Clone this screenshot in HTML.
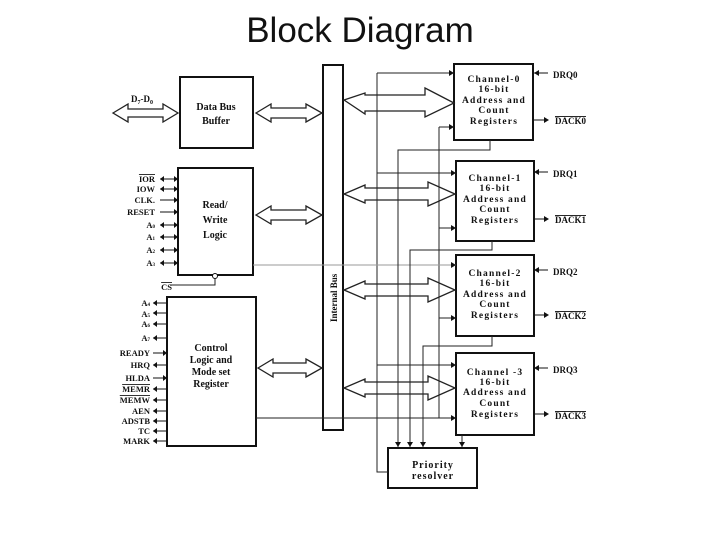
<!DOCTYPE html>
<html><head><style>
body{margin:0;background:#fff;width:720px;height:540px;overflow:hidden}
svg text{font-family:"Liberation Serif",serif;font-weight:bold;fill:#111}
</style></head><body>
<svg width="720" height="540" xmlns="http://www.w3.org/2000/svg">
<text x="360" y="42" text-anchor="middle" style="font-family:'Liberation Sans',sans-serif;font-weight:normal;font-size:35px">Block Diagram</text>
<g stroke="#111" fill="none" stroke-width="2">
<rect x="180" y="77" width="73" height="71"/>
<rect x="178" y="168" width="75" height="107"/>
<rect x="167" y="297" width="89" height="149"/>
<rect x="323" y="65" width="20" height="365"/>
<rect x="454" y="64" width="79" height="76"/>
<rect x="456" y="161" width="78" height="80"/>
<rect x="456" y="255" width="78" height="81"/>
<rect x="456" y="353" width="78" height="82"/>
<rect x="388" y="448" width="89" height="40"/>
</g>
<g stroke="#222" fill="#fff" stroke-width="1.3">
<path d="M113,113 L128,104 L128,109 L163,109 L163,104 L178,113 L163,122 L163,117 L128,117 L128,122 Z"/>
<path d="M256,113 L271,104 L271,108 L306,108 L306,104 L322,113 L306,122 L306,118 L271,118 L271,122 Z"/>
<path d="M256,215 L271,206 L271,210 L306,210 L306,206 L322,215 L306,224 L306,220 L271,220 L271,224 Z"/>
<path d="M258,368 L273,359 L273,363 L306,363 L306,359 L322,368 L306,377 L306,373 L273,373 L273,377 Z"/>
<path d="M344,100 L365,93 L365,95 L425,95 L425,88 L454,103 L425,117 L425,111 L365,111 L365,114 Z"/>
<path d="M344,194 L365,185 L365,188 L428,188 L428,182 L455,194 L428,206 L428,200 L365,200 L365,203 Z"/>
<path d="M344,290 L365,281 L365,284 L428,284 L428,278 L455,290 L428,302 L428,296 L365,296 L365,299 Z"/>
<path d="M344,388 L365,379 L365,382 L428,382 L428,376 L455,388 L428,400 L428,394 L365,394 L365,397 Z"/>
</g>
<g stroke="#222" fill="none" stroke-width="1">
<path d="M377,73 L454,73 M377,73 L377,472 L388,472"/>
<path d="M377,173 L456,173 M377,265 L456,265 M377,365 L456,365"/>
<path d="M439,127 L454,127 M439,127 L439,418 M439,228 L456,228 M439,318 L456,318"/>
<path d="M256,418 L456,418" />
<path d="M253,265 L456,265" stroke="#999"/>
<path d="M490,140 L490,150 L398,150 L398,447"/>
<path d="M492,241 L492,250 L410,250 L410,447"/>
<path d="M492,336 L492,346 L423,346 L423,447"/>
<path d="M462,435 L462,447"/>
<path d="M170,285 L215,285 L215,277"/>
</g>
<circle cx="215" cy="276" r="2.5" fill="#fff" stroke="#111"/>
<g fill="#111">
<path d="M454,73 l-5,-3 v6z M454,127 l-5,-3 v6z M456,173 l-5,-3 v6z M456,228 l-5,-3 v6z M456,265 l-5,-3 v6z M456,318 l-5,-3 v6z M456,365 l-5,-3 v6z M456,418 l-5,-3 v6z"/>
<path d="M398,447 l-3,-5 h6z M410,447 l-3,-5 h6z M423,447 l-3,-5 h6z M462,447 l-3,-5 h6z"/>
</g>
<g font-size="10" text-anchor="middle">
<text x="216" y="110">Data Bus</text><text x="216" y="124">Buffer</text>
<text x="215" y="208">Read/</text><text x="215" y="223">Write</text><text x="215" y="238">Logic</text>
<text x="211" y="351">Control</text><text x="211" y="363">Logic and</text><text x="211" y="375">Mode set</text><text x="211" y="387">Register</text>
<text x="433" y="468" letter-spacing="1">Priority</text><text x="433" y="479" letter-spacing="1">resolver</text>
</g>
<g font-size="9.5" text-anchor="middle" letter-spacing="1.2">
<text x="494" y="82">Channel-0</text><text x="494" y="92">16-bit</text><text x="494" y="103">Address and</text><text x="494" y="113">Count</text><text x="494" y="124">Registers</text>
<text x="495" y="181">Channel-1</text><text x="495" y="191">16-bit</text><text x="495" y="202">Address and</text><text x="495" y="212">Count</text><text x="495" y="223">Registers</text>
<text x="495" y="276">Channel-2</text><text x="495" y="286">16-bit</text><text x="495" y="297">Address and</text><text x="495" y="307">Count</text><text x="495" y="318">Registers</text>
<text x="495" y="375">Channel -3</text><text x="495" y="385">16-bit</text><text x="495" y="395">Address and</text><text x="495" y="406">Count</text><text x="495" y="417">Registers</text>
</g>
<g font-size="9" font-weight="normal">
<text x="553" y="78">DRQ0</text><text x="555" y="124" style="text-decoration:overline">DACK0</text>
<text x="553" y="177">DRQ1</text><text x="555" y="223" style="text-decoration:overline">DACK1</text>
<text x="553" y="275">DRQ2</text><text x="555" y="319" style="text-decoration:overline">DACK2</text>
<text x="553" y="373">DRQ3</text><text x="555" y="419" style="text-decoration:overline">DACK3</text>
</g>
<g stroke="#111" stroke-width="1" fill="none">
<path d="M534,73 h14 M534,172 h14 M534,270 h14 M534,368 h14"/>
<path d="M534,120 h14 M534,219 h14 M534,315 h14 M534,414 h14"/>
</g>
<g fill="#111"><path d="M534,73 l5,-3 v6z M534,172 l5,-3 v6z M534,270 l5,-3 v6z M534,368 l5,-3 v6z M549,120 l-5,-3 v6z M549,219 l-5,-3 v6z M549,315 l-5,-3 v6z M549,414 l-5,-3 v6z"/></g>
<text x="131" y="102" font-size="9">D<tspan font-size="6" dy="2">7</tspan><tspan dy="-2">-D</tspan><tspan font-size="6" dy="2">0</tspan></text>
<text transform="translate(337,322) rotate(-90)" font-size="9">Internal Bus</text>
<g font-size="8.5" text-anchor="end">
<text x="155" y="182" style="text-decoration:overline">IOR</text>
<text x="155" y="192">IOW</text>
<text x="155" y="203">CLK.</text>
<text x="155" y="215">RESET</text>
<text x="155" y="228">A<tspan font-size="5">0</tspan></text>
<text x="155" y="240">A<tspan font-size="5">1</tspan></text>
<text x="155" y="253">A<tspan font-size="5">2</tspan></text>
<text x="155" y="266">A<tspan font-size="5">3</tspan></text>
<text x="172" y="290" style="text-decoration:overline">CS</text>
<text x="150" y="306">A<tspan font-size="5">4</tspan></text>
<text x="150" y="317">A<tspan font-size="5">5</tspan></text>
<text x="150" y="327">A<tspan font-size="5">6</tspan></text>
<text x="150" y="341">A<tspan font-size="5">7</tspan></text>
<text x="150" y="356">READY</text>
<text x="150" y="368">HRQ</text>
<text x="150" y="381">HLDA</text>
<text x="150" y="392" style="text-decoration:overline">MEMR</text>
<text x="150" y="403" style="text-decoration:overline">MEMW</text>
<text x="150" y="414">AEN</text>
<text x="150" y="424">ADSTB</text>
<text x="150" y="434">TC</text>
<text x="150" y="444">MARK</text>
</g>
<g stroke="#111" stroke-width="1" fill="none">
<path d="M160,179 h17 M160,189 h17 M160,200 h17 M160,212 h17 M160,225 h17 M160,237 h17 M160,250 h17 M160,263 h17"/>
<path d="M153,303 h13 M153,313 h13 M153,324 h13 M153,338 h13 M153,353 h13 M153,365 h13 M153,378 h13 M153,389 h13 M153,400 h13 M153,411 h13 M153,421 h13 M153,431 h13 M153,441 h13"/>
</g>
<g fill="#111">
<path d="M178,179 l-4,-3 v6z M160,179 l4,-3 v6z M178,189 l-4,-3 v6z M160,189 l4,-3 v6z M178,200 l-4,-3 v6z M178,212 l-4,-3 v6z M178,225 l-4,-3 v6z M160,225 l4,-3 v6z M178,237 l-4,-3 v6z M160,237 l4,-3 v6z M178,250 l-4,-3 v6z M160,250 l4,-3 v6z M178,263 l-4,-3 v6z M160,263 l4,-3 v6z"/>
<path d="M153,303 l4,-3 v6z M153,313 l4,-3 v6z M153,324 l4,-3 v6z M153,338 l4,-3 v6z M167,353 l-4,-3 v6z M153,365 l4,-3 v6z M167,378 l-4,-3 v6z M153,389 l4,-3 v6z M153,400 l4,-3 v6z M153,411 l4,-3 v6z M153,421 l4,-3 v6z M153,431 l4,-3 v6z M153,441 l4,-3 v6z"/>
</g>
</svg>
</body></html>
